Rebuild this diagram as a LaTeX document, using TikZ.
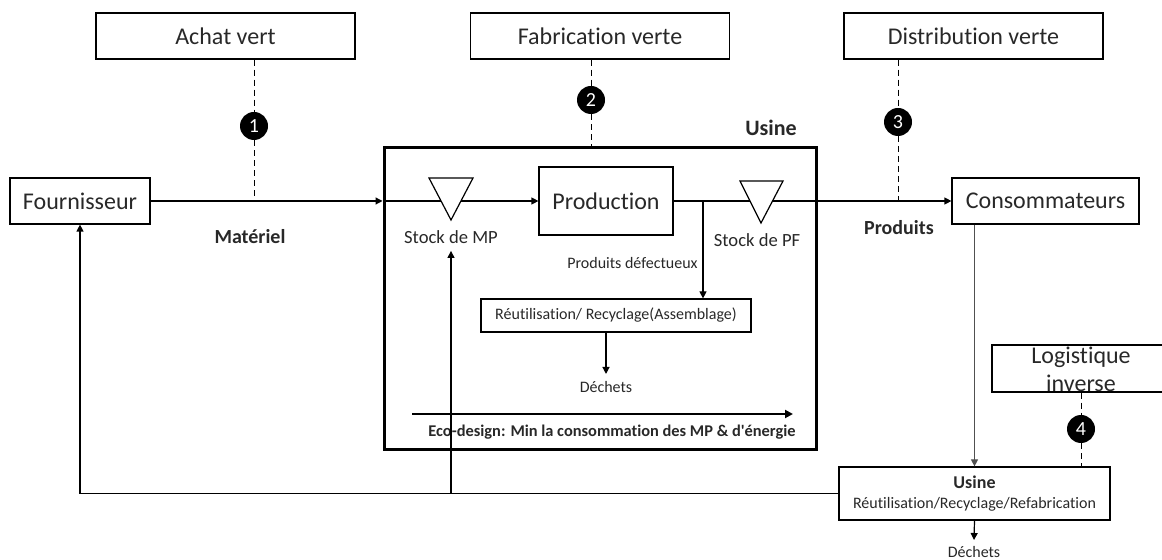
\documentclass[tikz,border=0pt]{standalone}
\usepackage{fontspec}
\setmainfont{Carlito}[Ligatures={TeX,NoCommon}]
\definecolor{inkgray}{RGB}{40, 40, 40}
\definecolor{flowgray}{RGB}{80, 80, 80}
\usepackage{tikz}
\usetikzlibrary{arrows.meta, positioning, calc}

\begin{document}
\begin{tikzpicture}[x=0.5pt, y=-0.5pt,
  greenbox/.style={draw, line width=0.6pt, inner sep=0pt, minimum width=129.5pt, minimum height=23pt, font=\fontsize{12}{14}\selectfont, text=inkgray},
  actor/.style={draw, line width=0.6pt, inner sep=0pt, minimum height=23pt, font=\fontsize{12}{14}\selectfont, text=inkgray},
  lbl/.style={font=\fontsize{8}{10}\selectfont, text=inkgray, inner sep=0pt},
  boldlbl/.style={font=\fontsize{10}{12}\selectfont\bfseries, text=inkgray, inner sep=0pt},
  num/.style={circle, fill=black, inner sep=0pt, minimum size=14pt, text=white, font=\fontsize{10}{10}\selectfont},
  link/.style={densely dashed, line width=0.5pt},
  flow/.style={line width=0.6pt, -{Triangle[length=3.5pt, width=3.5pt]}},
  stockmark/.style={draw, fill=white, line width=0.6pt}]

  \useasboundingbox (0,0) rectangle (1162,560);

  % Green practices
  \node[greenbox] (achat) at (225.5,36) {Achat vert};
  \node[greenbox] (fab) at (600,36) {Fabrication verte};
  \node[greenbox] (distr) at (973.5,36) {Distribution verte};

  % Supplier and customers
  \node[actor, minimum width=70pt] (four) at (80,201) {Fournisseur};
  \node[actor, minimum width=93.5pt] (cons) at (1045.5,201) {Consommateurs};

  % Factory
  \node[draw, line width=1.5pt, minimum width=216pt, minimum height=151pt] (usine) at (600,299) {};
  \node[font=\fontsize{11}{13}\selectfont\bfseries, text=inkgray] (usinelbl) at (771,128) {Usine};
  \node[actor, minimum width=67pt, minimum height=34pt] (prod) at (606,201) {Production};

  % Main flow
  \draw[flow] (four.east) -- (four.east -| usine.west);
  \draw[flow] (four.east -| usine.west) -- (prod.west);
  \draw[flow] (prod.east) -- (cons.west);
  \node[boldlbl] (mat) at (250,237) {Matériel};
  \node[boldlbl] (produits) at (899,228) {Produits};

  % Stocks
  \draw[stockmark] (429,178) -- (473,178) -- (451,220) -- cycle;
  \node[lbl, font=\fontsize{9.3}{11}\selectfont] (mplbl) at (451,237) {Stock de MP};
  \draw[stockmark] (740,181) -- (783,181) -- (761,223) -- cycle;
  \node[lbl, font=\fontsize{9.3}{11}\selectfont] (pflbl) at (757,240) {Stock de PF};

  % Defective products
  \node[draw, line width=0.6pt, minimum width=135pt, minimum height=16.5pt, lbl] (reuse) at (616,315.5) {Réutilisation/ Recyclage(Assemblage)};
  \coordinate (split) at (703,201);
  \draw[flow] (split) -- (split |- reuse.north);
  \node[lbl, anchor=east] (defect) at (698,263) {Produits défectueux};
  \node[lbl, inner sep=3.5pt] (dech) at (606,387) {Déchets};
  \draw[flow] (dech.north |- reuse.south) -- (dech.north);

  % Eco-design
  \coordinate (ecoa) at (412,414);
  \coordinate (ecob) at (793,414);
  \draw[line width=1pt, -{Triangle[length=4pt, width=4pt]}] (ecoa) -- (ecob);
  \node[lbl, font=\fontsize{8.2}{10}\selectfont\bfseries] (eco) at (612,432) {Eco-design: Min la consommation des MP \& d\textquotesingle énergie};

  % Reverse logistics
  \node[draw, line width=0.6pt, minimum width=135.5pt, minimum height=26.5pt, align=center, lbl] (usine2) at (974.5,493.5) {{\fontsize{9}{10}\selectfont\bfseries Usine}\\Réutilisation/Recyclage/Refabrication};
  \node[draw, line width=0.6pt, minimum width=94pt, minimum height=23.5pt] (logbox) at (1086,368.5) {};
  \node[align=center, inner sep=0pt, text=inkgray, font=\fontsize{12}{14}\selectfont] (logtxt) at (1081,369) {Logistique\\inverse};
  \draw[flow, draw=flowgray] (usine2.north |- cons.south) -- (usine2.north);
  \node[lbl, inner sep=0pt] (dech2) at (974,552) {Déchets};
  \draw[flow] (usine2.south) -- ([yshift=3pt]dech2.north);
  \draw[flow] (usine2.west) -- (four.south |- usine2.west) -- (four.south);
  \draw[flow] (mplbl.south |- usine2.west) -- ([yshift=-3.5pt]mplbl.south);

  % Numbered links
  \node[num] (n1) at (254,126) {1};
  \draw[link] (achat.south -| n1) -- (n1) -- (n1 |- four.east);
  \node[num] (n2) at (591,100) {2};
  \draw[link] (fab.south -| n2) -- (n2) -- (n2 |- usine.north);
  \node[num] (n3) at (898,122) {3};
  \draw[link] (distr.south -| n3) -- (n3) -- (n3 |- cons.west);
  \node[num] (n4) at (1081,429) {4};
  \draw[link] (logbox.south -| n4) -- (n4) -- (n4 |- usine2.north);
\end{tikzpicture}
\end{document}
